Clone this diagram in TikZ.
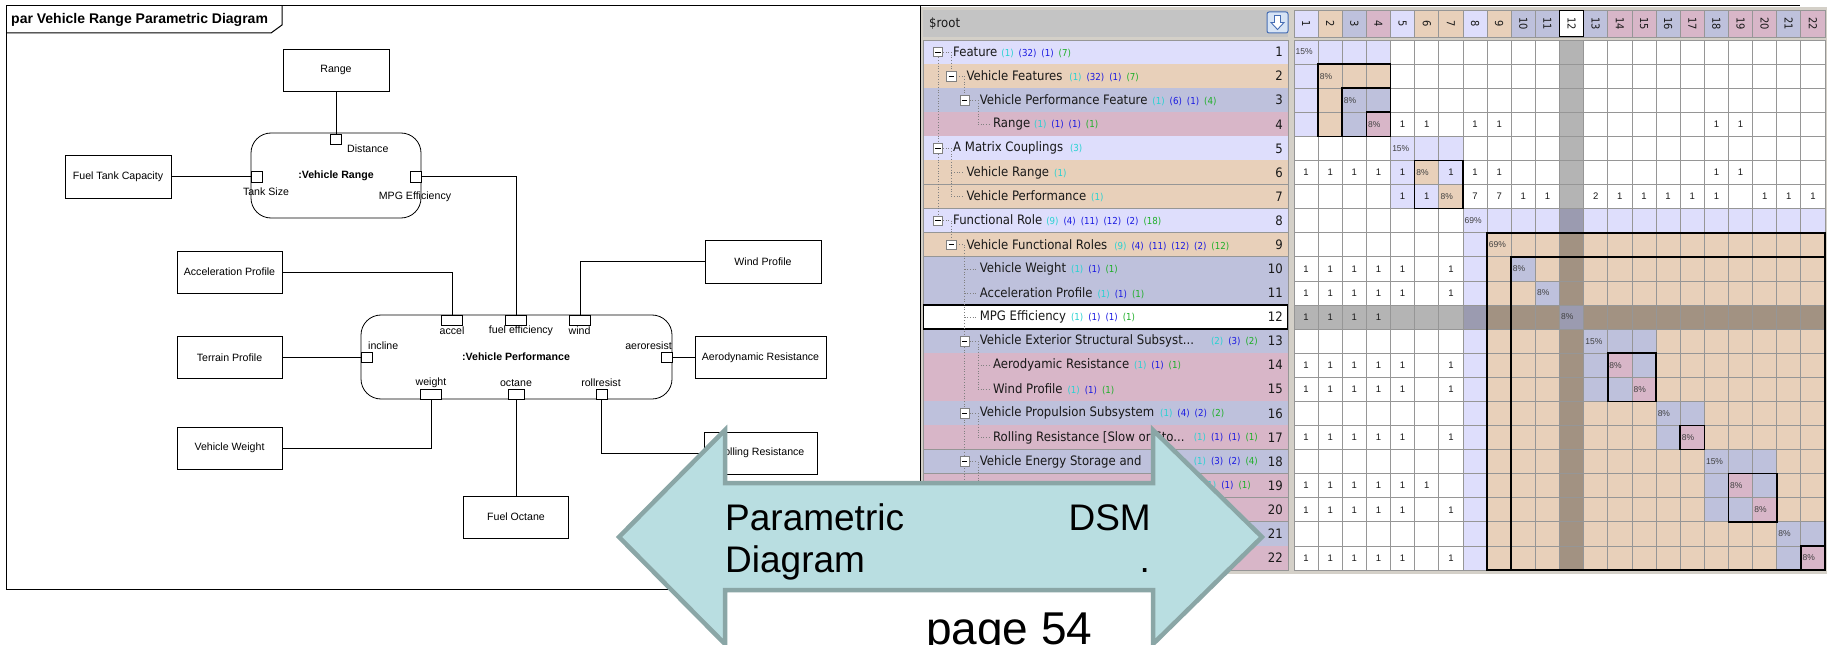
\documentclass[tikz,border=0pt]{standalone}
\usepackage{fontspec}
\setmainfont{Liberation Sans}
\newfontfamily\dsmfont[FakeStretch=0.9]{DejaVu Sans}
\usetikzlibrary{calc}
\definecolor{lav}{RGB}{222,222,252}
\definecolor{tanc}{RGB}{232,208,186}
\definecolor{bgc}{RGB}{190,193,220}
\definecolor{pnk}{RGB}{216,182,200}
\definecolor{panel}{RGB}{212,208,200}
\definecolor{hdr}{RGB}{196,196,196}
\definecolor{gridc}{RGB}{150,150,150}
\definecolor{selg}{RGB}{180,180,180}
\definecolor{ink}{RGB}{25,25,25}
\definecolor{cntc}{RGB}{40,210,210}
\definecolor{cntb}{RGB}{25,25,225}
\definecolor{cntg}{RGB}{30,175,40}
\definecolor{arrfill}{RGB}{185,222,225}
\definecolor{arrline}{RGB}{138,166,166}
\definecolor{iconb}{RGB}{70,110,180}
\definecolor{iconf}{RGB}{215,228,245}
\def\CW{24.1364}
\def\RH{24.0909}
\newcommand\ks{\hspace{5bp}}
\newcommand\cnt[1]{{\fontsize{9.6bp}{11bp}\selectfont #1}}
\newcommand\kc[1]{\textcolor{cntc}{(#1)}}
\newcommand\kb[1]{\textcolor{cntb}{(#1)}}
\newcommand\kg[1]{\textcolor{cntg}{(#1)}}
\newcommand\trow[2]{\fill[#2] (923,{40+(#1-1)*\RH}) rectangle (1288,{40+#1*\RH});
  \draw[gridc,line width=0.8bp] (923,{40+#1*\RH}) -- (1288,{40+#1*\RH});}
\newcommand\tlab[3]{\node[tt,anchor=west] (tl#1) at ({953+#2*13.3},{40+(#1-0.5)*\RH}) {#3};}
\newcommand\tnum[1]{\node[tt,anchor=east] (tn#1) at (1283,{40+(#1-0.5)*\RH}) {#1};}
\newcommand\tcnt[3]{\node[tt,anchor=east] (tc#1) at (#2,{40+(#1-0.5)*\RH}) {\cnt{#3}};}
\newcommand\expd[2]{\node[expbox] (ex#1) at ({938+#2*13.3},{40+(#1-0.5)*\RH}) {};
  \draw[line width=0.9bp] ($(ex#1.center)+(-2.8,0)$) -- ($(ex#1.center)+(2.8,0)$);
  \draw[tline] (ex#1.east) -- ++(8,0);}
\newcommand\vln[3]{\draw[tline] ({938+#1*13.3},{40+(#2-0.5)*\RH}) -- ({938+#1*13.3},{40+(#3-0.5)*\RH});}
\newcommand\hln[2]{\draw[tline] ({938+#2*13.3},{40+(#1-0.5)*\RH}) -- ++(13,0);}
\newcommand\blk[3]{\fill[#3] ({1294+(#1-1)*\CW},{40+(#1-1)*\RH}) rectangle ({1294+#2*\CW},{40+#2*\RH});}
\newcommand\cel[3]{\fill[#3] ({1294+(#2-1)*\CW},{40+(#1-1)*\RH}) rectangle ({1294+#2*\CW},{40+#1*\RH});}
\newcommand\tbx[4]{\draw[black,line width=1.6bp] ({1294+(#3-1)*\CW},{40+(#1-1)*\RH}) rectangle ({1294+#4*\CW},{40+#2*\RH});}
\newcommand\one[3]{\node[onetxt] (v#1x#2) at ({1294+(#2-0.5)*\CW},{40+(#1-0.5)*\RH}) {#3};}
\newcommand\pct[3]{\node[pcttxt,anchor=west] (p#1x#2) at ({1294+(#2-1)*\CW+1.5},{40+(#1-0.5)*\RH}) {#3};}
\begin{document}
\begin{tikzpicture}[x=1bp,y=-1bp,
  tt/.style={font=\dsmfont\fontsize{13bp}{15bp}\selectfont, inner sep=0, text=ink},
  hdrtxt/.style={font=\dsmfont\fontsize{11bp}{12bp}\selectfont, inner sep=0, text=ink},
  onetxt/.style={font=\fontsize{9.5bp}{11bp}\selectfont, inner sep=0, text=ink},
  pcttxt/.style={font=\fontsize{8.5bp}{10bp}\selectfont, inner sep=0, text={black!75}},
  tline/.style={draw=gray, dotted, line width=0.7bp},
  expbox/.style={draw=gray, fill=white, minimum size=9.5bp, inner sep=0, line width=0.7bp},
  pbox/.style={draw=black, line width=0.8bp, fill=white, inner sep=0, align=center, font=\fontsize{10.6bp}{12bp}\selectfont},
  rblk/.style={draw=black, line width=0.8bp, fill=white, rounded corners=20bp, inner sep=0},
  port/.style={draw=black, line width=0.8bp, fill=white, inner sep=0},
  lbl/.style={inner sep=0, font=\fontsize{10.6bp}{12bp}\selectfont},
  blbl/.style={inner sep=0, font=\bfseries\fontsize{10.6bp}{12bp}\selectfont},
  ttl/.style={inner sep=0, font=\bfseries\fontsize{14bp}{16bp}\selectfont},
  con/.style={draw=black, line width=0.8bp},
  arrsty/.style={draw=arrline, fill=arrfill, line width=4.5bp, line join=miter},
  bigt/.style={inner sep=0, font=\fontsize{37bp}{40bp}\selectfont},
  pagt/.style={inner sep=0, font=\fontsize{46bp}{50bp}\selectfont}]
\useasboundingbox (0,0) rectangle (1827,645);
\fill[white] (0,0) rectangle (1827,645);

% ---------------- DSM panel ----------------
\fill[panel] (921,7) rectangle (1827,574);
\fill[hdr] (923,10) rectangle (1288,37);
\node[tt,anchor=west] (root) at (929,23.5) {\$root};
\node[draw=iconb, fill=iconf, rounded corners=2bp, minimum width=21bp, minimum height=21bp, inner sep=0, line width=1bp] (dn) at (1277.5,22.5) {};
\draw[shift={(dn.center)}, draw=iconb, fill=white, line width=0.9bp] (-3,-7) -- (3,-7) -- (3,0) -- (6.5,0) -- (0,7) -- (-6.5,0) -- (-3,0) -- cycle;

% column headers
\foreach \kk/\hc in {1/lav,2/tanc,3/bgc,4/pnk,5/lav,6/tanc,7/tanc,8/lav,9/tanc,10/bgc,11/bgc,12/white,13/bgc,14/pnk,15/pnk,16/bgc,17/pnk,18/bgc,19/pnk,20/pnk,21/bgc,22/pnk} {
  \fill[\hc] ({1294+(\kk-1)*\CW},10) rectangle ({1294+\kk*\CW},37);
  \draw[gridc,line width=0.8bp] ({1294+(\kk-1)*\CW},10) rectangle ({1294+\kk*\CW},37);
  \node[hdrtxt,rotate=-90] (h\kk) at ({1294+(\kk-0.5)*\CW},23.5) {\kk};
}
\draw[black,line width=1.4bp] ({1294+11*\CW},10.5) rectangle ({1294+12*\CW},36.5);

% tree rows
\foreach \rr/\hc in {1/lav,2/tanc,3/bgc,4/pnk,5/lav,6/tanc,7/tanc,8/lav,9/tanc,10/bgc,11/bgc,12/white,13/bgc,14/pnk,15/pnk,16/bgc,17/pnk,18/bgc,19/pnk,20/pnk,21/bgc,22/pnk} {
  \trow{\rr}{\hc}
}
\draw[gridc,line width=0.8bp] (923,40) rectangle (1288,570);
\draw[black,line width=1.3bp] (923.6,{40+11*\RH}) rectangle (1287.5,{40+12*\RH});

% tree lines
\vln{0}{1}{8}
\vln{1}{1}{2} \vln{1}{5}{7} \vln{1}{8}{9}
\vln{2}{2}{3} \vln{2}{9}{21}
\vln{3}{3}{4} \vln{3}{13}{15} \vln{3}{16}{17} \vln{3}{18}{20} \vln{3}{21}{22}
\hln{4}{3} \hln{6}{1} \hln{7}{1} \hln{10}{2} \hln{11}{2} \hln{12}{2}
\hln{14}{3} \hln{15}{3} \hln{17}{3} \hln{19}{3} \hln{20}{3} \hln{22}{3}
\expd{1}{0} \expd{2}{1} \expd{3}{2} \expd{5}{0} \expd{8}{0} \expd{9}{1}
\expd{13}{2} \expd{16}{2} \expd{18}{2} \expd{21}{2}

% tree labels
\tlab{1}{0}{Feature\hspace{4bp}\cnt{\kc{1}\ks\kb{32}\ks\kb{1}\ks\kg{7}}}
\tlab{2}{1}{Vehicle Features\hspace{7bp}\cnt{\kc{1}\ks\kb{32}\ks\kb{1}\ks\kg{7}}}
\tlab{3}{2}{Vehicle Performance Feature\hspace{5bp}\cnt{\kc{1}\ks\kb{6}\ks\kb{1}\ks\kg{4}}}
\tlab{4}{3}{Range\hspace{4bp}\cnt{\kc{1}\ks\kb{1}\ks\kb{1}\ks\kg{1}}}
\tlab{5}{0}{A Matrix Couplings\hspace{7bp}\cnt{\kc{3}}}
\tlab{6}{1}{Vehicle Range\hspace{5bp}\cnt{\kc{1}}}
\tlab{7}{1}{Vehicle Performance\hspace{5bp}\cnt{\kc{1}}}
\tlab{8}{0}{Functional Role\hspace{4bp}\cnt{\kc{9}\ks\kb{4}\ks\kb{11}\ks\kb{12}\ks\kb{2}\ks\kg{18}}}
\tlab{9}{1}{Vehicle Functional Roles\hspace{7bp}\cnt{\kc{9}\ks\kb{4}\ks\kb{11}\ks\kb{12}\ks\kb{2}\ks\kg{12}}}
\tlab{10}{2}{Vehicle Weight\hspace{5bp}\cnt{\kc{1}\ks\kb{1}\ks\kg{1}}}
\tlab{11}{2}{Acceleration Profile\hspace{5bp}\cnt{\kc{1}\ks\kb{1}\ks\kg{1}}}
\tlab{12}{2}{MPG Efficiency\hspace{5bp}\cnt{\kc{1}\ks\kb{1}\ks\kb{1}\ks\kg{1}}}
\tlab{13}{2}{Vehicle Exterior Structural Subsyst...}
\tcnt{13}{1258}{\kc{2}\ks\kb{3}\ks\kg{2}}
\tlab{14}{3}{Aerodyamic Resistance\hspace{5bp}\cnt{\kc{1}\ks\kb{1}\ks\kg{1}}}
\tlab{15}{3}{Wind Profile\hspace{5bp}\cnt{\kc{1}\ks\kb{1}\ks\kg{1}}}
\tlab{16}{2}{Vehicle Propulsion Subsystem\hspace{6bp}\cnt{\kc{1}\ks\kb{4}\ks\kb{2}\ks\kg{2}}}
\tlab{17}{3}{Rolling Resistance [Slow or Sto...}
\tcnt{17}{1258}{\kc{1}\ks\kb{1}\ks\kb{1}\ks\kg{1}}
\tlab{18}{2}{Vehicle Energy Storage and}
\tcnt{18}{1258}{\kc{1}\ks\kb{3}\ks\kb{2}\ks\kg{4}}
\tcnt{19}{1251}{\kc{1}\ks\kb{1}\ks\kg{1}}
\foreach \rr in {1,...,22} {\tnum{\rr}}

% matrix cells
\fill[white] (1294,40) rectangle (1825,570);
\blk{1}{4}{lav} \blk{2}{4}{tanc} \blk{3}{4}{bgc} \blk{4}{4}{pnk}
\blk{5}{7}{lav} \blk{6}{6}{tanc} \blk{7}{7}{tanc}
\blk{8}{22}{lav} \blk{9}{22}{tanc} \blk{10}{10}{bgc} \blk{11}{11}{bgc}
\blk{13}{15}{bgc} \blk{14}{14}{pnk} \blk{15}{15}{pnk}
\blk{16}{17}{bgc} \blk{17}{17}{pnk}
\blk{18}{20}{bgc} \blk{19}{19}{pnk} \blk{20}{20}{pnk}
\blk{21}{22}{bgc} \blk{22}{22}{pnk}
\foreach \rr in {1,...,7} {\cel{\rr}{12}{selg}}
\cel{8}{12}{lav!70!black}
\foreach \rr in {9,...,22} {\cel{\rr}{12}{tanc!70!black}}
\foreach \kk in {1,...,7} {\cel{12}{\kk}{selg}}
\cel{12}{8}{lav!70!black}
\foreach \kk in {9,...,22} {\cel{12}{\kk}{tanc!70!black}}
\cel{12}{12}{lav!70!black}
\foreach \kk in {0,...,22} {
  \draw[gridc,line width=0.8bp] ({1294+\kk*\CW},40) -- ({1294+\kk*\CW},570);
  \draw[gridc,line width=0.8bp] (1294,{40+\kk*\RH}) -- (1825,{40+\kk*\RH});
}
\tbx{2}{4}{2}{4} \tbx{3}{4}{3}{4} \tbx{4}{4}{4}{4}
\tbx{6}{7}{6}{7}
\tbx{9}{22}{9}{22} \tbx{10}{22}{10}{22}
\tbx{14}{15}{14}{15} \tbx{17}{17}{17}{17} \tbx{19}{20}{19}{20} \tbx{22}{22}{22}{22}

% matrix values
\foreach \rr/\tv in {1/15,2/8,3/8,4/8,5/15,6/8,7/8,8/69,9/69,10/8,11/8,12/8,13/15,14/8,15/8,16/8,17/8,18/15,19/8,20/8,21/8,22/8} {\pct{\rr}{\rr}{\tv\%}}
\foreach \kk in {5,6,8,9,18,19} {\one{4}{\kk}{1}}
\foreach \kk in {1,2,3,4,5,7,8,9,18,19} {\one{6}{\kk}{1}}
\foreach \kk/\tv in {5/1,6/1,8/7,9/7,10/1,11/1,13/2,14/1,15/1,16/1,17/1,18/1,20/1,21/1,22/1} {\one{7}{\kk}{\tv}}
\foreach \rr in {10,11,14,15,17,20,22} {\foreach \kk in {1,2,3,4,5,7} {\one{\rr}{\kk}{1}}}
\foreach \kk in {1,...,4} {\one{12}{\kk}{1}}
\foreach \kk in {1,...,6} {\one{19}{\kk}{1}}

% ---------------- Parametric diagram ----------------
\draw[line width=1bp] (6,6) rectangle (920,589);
\draw[line width=1bp] (920,6) -- (1800,6);
\draw[line width=1bp] (6,33) -- (271,33) -- (282,25) -- (282,6);
\node[ttl,anchor=west] (title) at (11,19.5) {par Vehicle Range Parametric Diagram};

\node[pbox,minimum width=106bp,minimum height=42bp] (range) at (336,70) {Range};
\node[pbox,minimum width=106bp,minimum height=43bp] (ftc) at (118,176.5) {Fuel Tank Capacity};
\node[rblk,minimum width=170bp,minimum height=85bp] (vr) at (336,175.5) {};
\node[blbl] (vrn) at (336,176) {:Vehicle Range};
\node[port,minimum width=11bp,minimum height=10bp] (pDist) at (336,139) {};
\node[port,minimum width=11bp,minimum height=11bp] (pTank) at (256.5,176.5) {};
\node[port,minimum width=11bp,minimum height=11bp] (pMPG) at (415.5,176.5) {};
\node[lbl,anchor=west] (lDist) at (347,149) {Distance};
\node[lbl] (lTank) at (266,192) {Tank Size};
\node[lbl] (lMPG) at (415,197) {MPG Efficiency};

\node[pbox,minimum width=105bp,minimum height=42bp] (accp) at (229.5,272) {Acceleration Profile};
\node[pbox,minimum width=116bp,minimum height=43bp] (wind) at (763,261.5) {Wind Profile};
\node[pbox,minimum width=105bp,minimum height=42bp] (terr) at (229.5,357.5) {Terrain Profile};
\node[pbox,minimum width=131bp,minimum height=42bp] (aero) at (760.5,357.5) {Aerodynamic Resistance};
\node[pbox,minimum width=105bp,minimum height=42bp] (vw) at (229.5,448) {Vehicle Weight};
\node[pbox,minimum width=113bp,minimum height=42bp] (roll) at (760.5,453) {Rolling Resistance};
\node[pbox,minimum width=105bp,minimum height=42bp] (fo) at (516,517) {Fuel Octane};

\node[rblk,minimum width=311bp,minimum height=84bp] (vp) at (516.5,357) {};
\node[blbl] (vpn) at (516,357) {:Vehicle Performance};
\node[port,minimum width=21bp,minimum height=10bp] (pAccel) at (452,320) {};
\node[port,minimum width=21bp,minimum height=10bp] (pFuel) at (516,320) {};
\node[port,minimum width=21bp,minimum height=10bp] (pWind) at (580,320) {};
\node[port,minimum width=11bp,minimum height=10bp] (pIncl) at (367,357.5) {};
\node[port,minimum width=11bp,minimum height=10bp] (pAero) at (666.5,357.5) {};
\node[port,minimum width=21bp,minimum height=10bp] (pWeight) at (431,394) {};
\node[port,minimum width=16bp,minimum height=10bp] (pOct) at (516,394) {};
\node[port,minimum width=11bp,minimum height=10bp] (pRoll) at (601.5,394) {};
\node[lbl] (lAccel) at (452,330.5) {accel};
\node[lbl] (lFuel) at (521,330.5) {fuel efficiency};
\node[lbl] (lWind) at (579.5,330.5) {wind};
\node[lbl,anchor=west] (lIncl) at (368,346) {incline};
\node[lbl,anchor=east] (lAero) at (672,346) {aeroresist};
\node[lbl] (lWeight) at (431,383) {weight};
\node[lbl] (lOct) at (516,383) {octane};
\node[lbl] (lRoll) at (601,383) {rollresist};

\draw[con] (range.south) -- (pDist.north);
\draw[con] (ftc.east) -- (pTank.west);
\draw[con] (pMPG.east) -| (pFuel.north);
\draw[con] (accp.east) -| (pAccel.north);
\draw[con] (wind.west) -| (pWind.north);
\draw[con] (terr.east) -- (pIncl.west);
\draw[con] (aero.west) -- (pAero.east);
\draw[con] (pWeight.south) |- (vw.east);
\draw[con] (pOct.south) -- (fo.north);
\draw[con] (pRoll.south) |- (roll.west);

% ---------------- big double arrow ----------------
\draw[arrsty] (619,537) -- (725,430) -- (725,483) -- (1153,483) -- (1153,430) -- (1262,537) -- (1153,644) -- (1153,590) -- (725,590) -- (725,644) -- cycle;
\node[bigt,anchor=base west] (aPar) at (725,530) {Parametric};
\node[bigt,anchor=base west] (aDia) at (725,572) {Diagram};
\node[bigt,anchor=base east] (aDsm) at (1151,530) {DSM};
\node[bigt,anchor=base east] (aDot) at (1150,572) {.};
\node[pagt,anchor=base west] (aPage) at (926,644) {page 54};
\end{tikzpicture}
\end{document}
